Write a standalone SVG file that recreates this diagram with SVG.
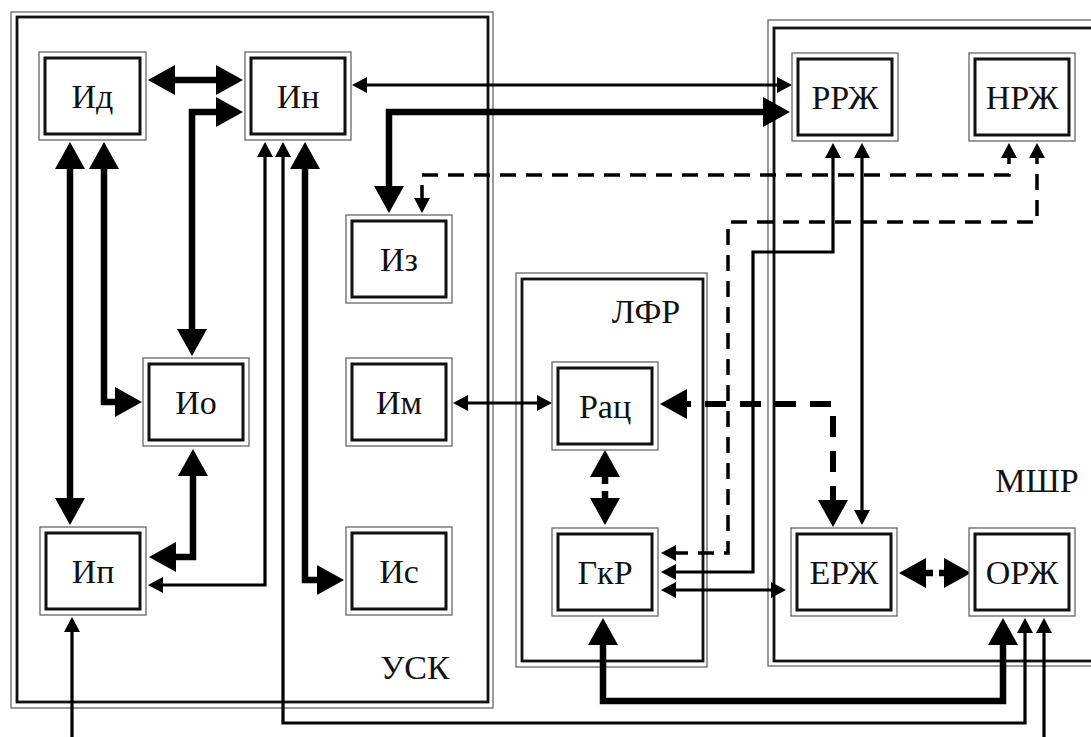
<svg xmlns="http://www.w3.org/2000/svg" width="1091" height="737" viewBox="0 0 1091 737">
<style>
.bg{fill:#fff}
.co{fill:none;stroke:#666;stroke-width:1.3}
.ci{fill:none;stroke:#111;stroke-width:2.8}
.no{fill:#fff;stroke:#666;stroke-width:1.3}
.ni{fill:none;stroke:#111;stroke-width:3}
.t{font-family:"Liberation Serif","Times New Roman",serif;font-size:34px;fill:#111;text-anchor:middle}
.th{fill:none;stroke:#000;stroke-width:6.5}
.tn{fill:none;stroke:#000;stroke-width:3.2}
.dth{fill:none;stroke:#000;stroke-width:6;stroke-dasharray:21 14}
.dtn{fill:none;stroke:#000;stroke-width:3.5;stroke-dasharray:16 10}
</style>
<defs>
<marker id="L" viewBox="0 0 27 30" refX="17" refY="15" markerWidth="27" markerHeight="30" orient="auto-start-reverse" markerUnits="userSpaceOnUse"><path d="M0,0 L27,15 L0,30 z" fill="#000"/></marker>
<marker id="S" viewBox="0 0 15 16" refX="10" refY="8" markerWidth="15" markerHeight="16" orient="auto-start-reverse" markerUnits="userSpaceOnUse"><path d="M0,0 L15,8 L0,16 z" fill="#000"/></marker>
</defs>
<rect class="bg" x="0" y="0" width="1091" height="737"/>

<g id="USK">
<rect class="co" x="11" y="12" width="482" height="696"/>
<rect class="ci" x="17" y="17" width="471" height="685"/>
<text class="t" x="415" y="679">УСК</text>
</g>
<g id="LFR">
<rect class="co" x="516" y="273" width="191" height="394"/>
<rect class="ci" x="522" y="279" width="181" height="382"/>
<text class="t" x="646" y="323">ЛФР</text>
</g>
<g id="MSHR">
<rect class="co" x="768" y="20" width="340" height="646"/>
<rect class="ci" x="774" y="28" width="330" height="633"/>
<text class="t" x="1037" y="492">МШР</text>
</g>

<g id="connectors">
<path class="th" d="M158,80 H233" marker-start="url(#L)" marker-end="url(#L)"/>
<path class="th" d="M233,112 H192 V346" marker-start="url(#L)" marker-end="url(#L)"/>
<path class="th" d="M70,152 V515" marker-start="url(#L)" marker-end="url(#L)"/>
<path class="th" d="M104,152 V402 H132" marker-start="url(#L)" marker-end="url(#L)"/>
<path class="th" d="M193,459 V557 H159" marker-start="url(#L)" marker-end="url(#L)"/>
<path class="th" d="M305,152 V580 H334" marker-start="url(#L)" marker-end="url(#L)"/>
<path class="th" d="M780,112 H389 V203" marker-start="url(#L)" marker-end="url(#L)"/>
<path class="th" d="M603,628 V701 H1003 V628" marker-start="url(#L)" marker-end="url(#L)"/>
<path class="dth" d="M670,404 H833 V517" marker-start="url(#L)" marker-end="url(#L)"/>
<path class="th" style="stroke-dasharray:24 7 40" d="M605,460 V515" marker-start="url(#L)" marker-end="url(#L)"/>
<path class="th" style="stroke-dasharray:24 6 40" d="M909,573 H961" marker-start="url(#L)" marker-end="url(#L)"/>

<path class="tn" d="M357,85 H787" marker-start="url(#S)" marker-end="url(#S)"/>
<path class="tn" d="M458,403 H547" marker-start="url(#S)" marker-end="url(#S)"/>
<path class="tn" d="M265,147 V585 H153" marker-start="url(#S)" marker-end="url(#S)"/>
<path class="tn" d="M283,147 V723 H1025 V623" marker-start="url(#S)" marker-end="url(#S)"/>
<path class="tn" d="M833,148 V252 H753 V572 H666" marker-start="url(#S)" marker-end="url(#S)"/>
<path class="tn" d="M862,148 V520" marker-start="url(#S)" marker-end="url(#S)"/>
<path class="tn" d="M666,590 H781" marker-start="url(#S)" marker-end="url(#S)"/>
<path class="tn" d="M72,737 V622" marker-end="url(#S)"/>
<path class="tn" d="M1044,737 V623" marker-end="url(#S)"/>

<path class="dtn" d="M1009,148 V175 H422 V208" marker-start="url(#S)" marker-end="url(#S)"/>
<path class="dtn" d="M1037,148 V222 H728 V553 H666" marker-start="url(#S)" marker-end="url(#S)"/>
</g>

<g id="Id"><rect class="no" x="39" y="52" width="107" height="88"/><rect class="ni" x="45" y="58" width="95" height="76"/><text class="t" x="92.5" y="108">Ид</text></g>
<g id="In"><rect class="no" x="245" y="52" width="106" height="88"/><rect class="ni" x="251" y="58" width="94" height="76"/><text class="t" x="298" y="108">Ин</text></g>
<g id="Iz"><rect class="no" x="346" y="215" width="106" height="88"/><rect class="ni" x="352" y="221" width="94" height="76"/><text class="t" x="399" y="271">Из</text></g>
<g id="Im"><rect class="no" x="346" y="358" width="106" height="88"/><rect class="ni" x="352" y="364" width="94" height="76"/><text class="t" x="399" y="414">Им</text></g>
<g id="Io"><rect class="no" x="143" y="358" width="106" height="88"/><rect class="ni" x="149" y="364" width="94" height="76"/><text class="t" x="196" y="414">Ио</text></g>
<g id="Ip"><rect class="no" x="40" y="527" width="106" height="88"/><rect class="ni" x="46" y="533" width="94" height="76"/><text class="t" x="93" y="583">Ип</text></g>
<g id="Is"><rect class="no" x="346" y="527" width="106" height="88"/><rect class="ni" x="352" y="533" width="94" height="76"/><text class="t" x="399" y="583">Ис</text></g>
<g id="Rac"><rect class="no" x="552" y="362" width="106" height="88"/><rect class="ni" x="558" y="368" width="94" height="76"/><text class="t" x="605" y="418">Рац</text></g>
<g id="GkR"><rect class="no" x="552" y="528" width="106" height="88"/><rect class="ni" x="558" y="534" width="94" height="76"/><text class="t" x="605" y="584">ГкР</text></g>
<g id="RRZh"><rect class="no" x="792" y="53" width="106" height="88"/><rect class="ni" x="798" y="59" width="94" height="76"/><text class="t" x="845" y="109">РРЖ</text></g>
<g id="NRZh"><rect class="no" x="969" y="53" width="106" height="88"/><rect class="ni" x="975" y="59" width="94" height="76"/><text class="t" x="1022" y="109">НРЖ</text></g>
<g id="ERZh"><rect class="no" x="791" y="528" width="106" height="88"/><rect class="ni" x="797" y="534" width="94" height="76"/><text class="t" x="844" y="584">ЕРЖ</text></g>
<g id="ORZh"><rect class="no" x="969" y="528" width="106" height="88"/><rect class="ni" x="975" y="534" width="94" height="76"/><text class="t" x="1022" y="584">ОРЖ</text></g>
</svg>
